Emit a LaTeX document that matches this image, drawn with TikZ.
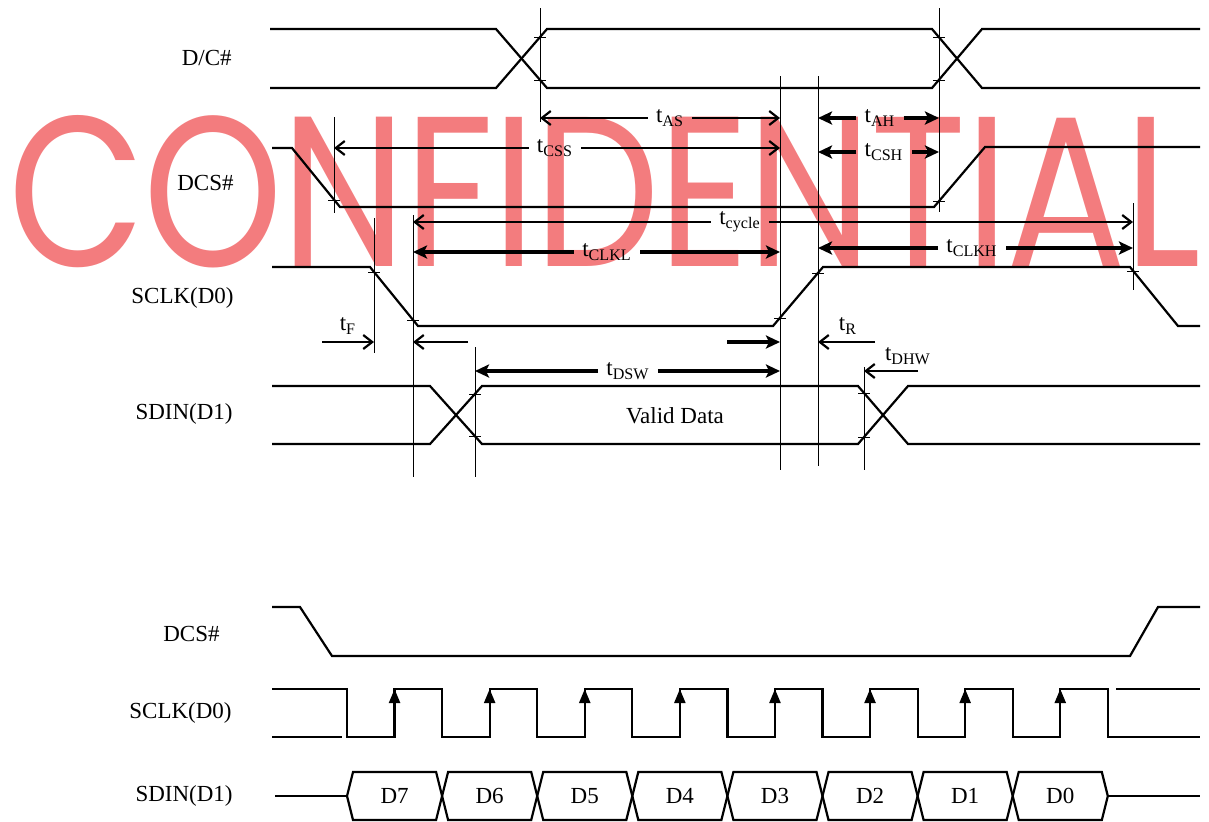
\documentclass[tikz,border=0pt]{standalone}
\usepackage{fontspec}
\usepackage{graphicx}
\setmainfont{Liberation Serif}
\newfontfamily\wmfont{Poppins}[LetterSpace=-1]
\usetikzlibrary{arrows.meta}
\definecolor{wmred}{RGB}{243,124,126}
\begin{document}
\begin{tikzpicture}[
        x=0.5pt, y=-0.5pt,
        sig/.style={line width=1.1pt, line join=miter},
        guide/.style={line width=0.5pt},
        dimthin/.style={line width=1.1pt, -{Straight Barb[length=4.5pt,width=7pt]}},
        dimbold/.style={line width=1.6pt, -{Stealth[length=7pt,width=6.5pt,inset=1.5pt]}},
        tlbl/.style={font=\fontsize{11.5}{13}\selectfont, inner xsep=4pt, inner ysep=0pt},
        rowlbl/.style={font=\fontsize{11.5}{13}\selectfont, anchor=east, inner sep=0pt},
        bit/.style={font=\fontsize{11.5}{13}\selectfont},
    ]
    \useasboundingbox (0,0) rectangle (1209,821);

    % watermark
    \node[anchor=base west, inner sep=0pt, text=wmred] (wm) at (8,266)
        {\scalebox{0.83}[1]{\wmfont\fontsize{107}{107}\selectfont CONFIDENTIAL}};

    % row labels
    \node[rowlbl] (dc)    at (232,58)  {D/C\#};
    \node[rowlbl] (cs)    at (234,183) {DCS\#};
    \node[rowlbl] (clk)   at (234,298) {SCLK(D0)};
    \node[rowlbl] (din)   at (233,414) {SDIN(D1)};
    \node[rowlbl] (cs2)   at (220,634) {DCS\#};
    \node[rowlbl] (clk2)  at (232,713) {SCLK(D0)};
    \node[rowlbl] (din2)  at (233,796) {SDIN(D1)};

    % guide lines
    \foreach \n/\gx/\ya/\yb in {ga/540/8/122, gb/939/8/212, gc/780/76/470,
            gd/818/76/466, ge/334/117/213, gf/413/215/477, gg/1133/203/290,
            gh/374/218/353, gi/475/347/477, gj/864/367/470} {
        \coordinate (\n top) at (\gx,\ya);
        \coordinate (\n) at (\gx,\yb);
        \draw[guide] (\n top) -- (\n);
    }
    \foreach \tx/\ty in {540/37, 540/80, 939/37, 939/80, 334/200, 939/201,
            374/272, 413/320, 780/318, 818/273, 1133/271,
            475/394, 475/436, 864/393, 864/437}
        \draw[guide] ({\tx-6},\ty) -- ({\tx+6},\ty);

    % D/C#
    \draw[sig] (270,29) -- (496,29) -- (547,88) -- (932,88) -- (982,29) -- (1200,29);
    \draw[sig] (270,88) -- (496,88) -- (547,29) -- (932,29) -- (982,88) -- (1200,88);
    % DCS#
    \draw[sig] (272,148) -- (292,148) -- (340,207) -- (934,207) -- (985,147) -- (1200,147);
    % SCLK
    \draw[sig] (272,267) -- (370,267) -- (418,326) -- (773,326) -- (823,267)
        -- (1130,267) -- (1178,326) -- (1200,326);
    % SDIN
    \draw[sig] (272,386) -- (430,386) -- (482,444) -- (858,444) -- (908,386) -- (1200,386);
    \draw[sig] (272,444) -- (430,444) -- (482,386) -- (858,386) -- (908,444) -- (1200,444);
    \node[bit] (valid) at (675,416) {Valid Data};

    % timing arrows
    \node[tlbl] (tas) at (670,118) {t\textsubscript{AS}};
    \draw[dimthin] (tas.west) -- (tas.west -| ga);
    \draw[dimthin] (tas.east) -- (tas.east -| gc);
    \node[tlbl] (tcss) at (555,148) {t\textsubscript{CSS}};
    \draw[dimthin] (tcss.west) -- (tcss.west -| ge);
    \draw[dimthin] (tcss.east) -- (tcss.east -| gc);
    \node[tlbl] (tah) at (880,118) {t\textsubscript{AH}};
    \draw[dimbold] (tah.west) -- (tah.west -| gd);
    \draw[dimbold] (tah.east) -- (tah.east -| gb);
    \node[tlbl] (tcsh) at (884,152) {t\textsubscript{CSH}};
    \draw[dimbold] (tcsh.west) -- (tcsh.west -| gd);
    \draw[dimbold] (tcsh.east) -- (tcsh.east -| gb);
    \node[tlbl] (tcyc) at (740,222) {t\textsubscript{cycle}};
    \draw[dimthin] (tcyc.west) -- (tcyc.west -| gf);
    \draw[dimthin] (tcyc.east) -- (tcyc.east -| gg);
    \node[tlbl] (tclkl) at (607,252) {t\textsubscript{CLKL}};
    \draw[dimbold] (tclkl.west) -- (tclkl.west -| gf);
    \draw[dimbold] (tclkl.east) -- (tclkl.east -| gc);
    \node[tlbl] (tclkh) at (972,248) {t\textsubscript{CLKH}};
    \draw[dimbold] (tclkh.west) -- (tclkh.west -| gd);
    \draw[dimbold] (tclkh.east) -- (tclkh.east -| gg);
    \node[tlbl] (tdsw) at (628,371) {t\textsubscript{DSW}};
    \draw[dimbold] (tdsw.west) -- (tdsw.west -| gi);
    \draw[dimbold] (tdsw.east) -- (tdsw.east -| gc);

    \node[tlbl] (tf) at (348,326) {t\textsubscript{F}};
    \coordinate (tfa) at (322,342);
    \coordinate (tfb) at (468,342);
    \draw[dimthin] (tfa) -- (tfa -| gh);
    \draw[dimthin] (tfb) -- (tfb -| gf);
    \node[tlbl] (tr) at (848,326) {t\textsubscript{R}};
    \coordinate (tra) at (727,342);
    \coordinate (trb) at (875,342);
    \draw[dimbold] (tra) -- (tra -| gc);
    \draw[dimthin] (trb) -- (trb -| gd);
    \node[tlbl] (tdhw) at (908,356) {t\textsubscript{DHW}};
    \coordinate (tdh) at (918,371);
    \draw[dimthin] (tdh) -- (tdh -| gj);

    % lower: DCS#
    \draw[sig] (272,607) -- (300,607) -- (332,656) -- (1130,656) -- (1158,607) -- (1200,607);
    % lower: SCLK
    \draw[sig] (272,737) -- (342,737);
    \draw[sig] (272,689) -- (347,689)
        \foreach \k in {0,...,7} { -- ++(0,48) -- ++(47.55,0) -- ++(0,-48) -- ++(47.55,0) }
        -- ++(0,48) -- (1200,737);
    \draw[sig] (1116,689) -- (1200,689);
    \foreach \k in {0,...,7}
        \draw[line width=1.1pt, -{Triangle[length=7pt,width=5.5pt]}]
            ({394.55+95.1*\k},737) -- ({394.55+95.1*\k},689);
    % lower: SDIN
    \draw[sig] (275,796) -- (347,796);
    \draw[sig] (1108,796) -- (1200,796);
    \foreach \k/\d in {0/7, 1/6, 2/5, 3/4, 4/3, 5/2, 6/1, 7/0} {
        \draw[sig] ({347+95.1*\k},796) -- ({353+95.1*\k},772) -- ({436.1+95.1*\k},772)
            -- ({442.1+95.1*\k},796) -- ({436.1+95.1*\k},820) -- ({353+95.1*\k},820) -- cycle;
        \node[bit] (d\d) at ({394.55+95.1*\k},796) {D\d};
    }
\end{tikzpicture}
\end{document}
